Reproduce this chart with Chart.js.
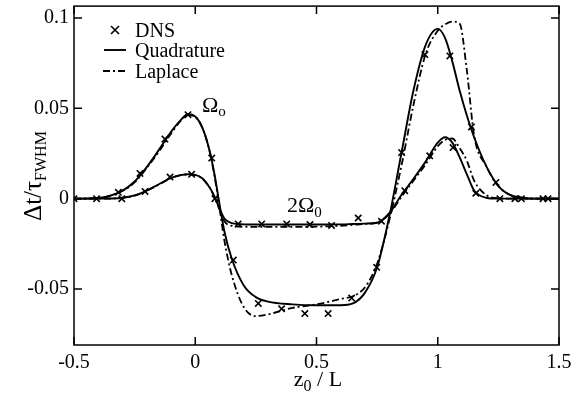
<!DOCTYPE html>
<html>
<head>
<meta charset="utf-8">
<script src="https://cdn.jsdelivr.net/npm/chart.js@4/dist/chart.umd.min.js"></script>
<style>
    html, body { margin: 0; padding: 0; background: #fff; }
</style>
</head>
<body>
<canvas id="chart" width="585" height="401"></canvas>
<script>
/* Sample positions z0/L shared by the four model curves */
const zGrid = [
    -0.5, -0.4, -0.3, -0.25, -0.2, -0.15, -0.1, -0.06, -0.03, 0,
    0.03, 0.06, 0.08, 0.1, 0.12, 0.15, 0.2, 0.25, 0.3, 0.4,
    0.5, 0.6, 0.65, 0.7, 0.75, 0.8, 0.85, 0.9, 0.95, 1.0,
    1.03, 1.06, 1.09, 1.12, 1.15, 1.2, 1.25, 1.3, 1.35, 1.4, 1.5,
];

/* Omega_0 curves */
const quadOmega = [
    0, 0.0004, 0.0045, 0.0095, 0.0175, 0.027, 0.037, 0.0435, 0.0467, 0.0455,
    0.039, 0.026, 0.013, -0.003, -0.018, -0.033, -0.048, -0.0545, -0.057, -0.0585,
    -0.059, -0.059, -0.058, -0.052, -0.038, -0.010, 0.025, 0.060, 0.085, 0.094,
    0.089, 0.076, 0.060, 0.046, 0.034, 0.018, 0.007, 0.002, 0.0005, 0, 0,
];
const laplaceOmega = [
    0, 0.0004, 0.0043, 0.009, 0.017, 0.026, 0.036, 0.043, 0.0463, 0.0453,
    0.039, 0.026, 0.012, -0.005, -0.023, -0.042, -0.060, -0.065, -0.064, -0.0605,
    -0.0585, -0.0555, -0.054, -0.049, -0.036, -0.012, 0.018, 0.052, 0.080, 0.093,
    0.0965, 0.098, 0.097, 0.071, 0.035, 0.018, 0.007, 0.002, 0.0005, 0, 0,
];

/* 2 Omega_0 curves */
const quad2Omega = [
    0, 0, 0.0005, 0.0018, 0.0045, 0.008, 0.0115, 0.013, 0.0135, 0.0132,
    0.0112, 0.006, 0.001, -0.0055, -0.011, -0.0135, -0.0142, -0.0143, -0.0143, -0.0143,
    -0.0143, -0.0142, -0.014, -0.0138, -0.0133, -0.008, 0.002, 0.011, 0.0205, 0.031,
    0.034, 0.031, 0.023, 0.0135, 0.0045, 0.0005, 0, 0, 0, 0, 0,
];
const laplace2Omega = [
    0, 0, 0.0005, 0.0017, 0.0044, 0.0078, 0.0113, 0.013, 0.0134, 0.0131,
    0.011, 0.006, 0.0005, -0.006, -0.0125, -0.015, -0.0155, -0.0156, -0.0156, -0.0156,
    -0.0155, -0.015, -0.0145, -0.014, -0.0133, -0.0085, 0.001, 0.010, 0.019, 0.029,
    0.0325, 0.0333, 0.028, 0.021, 0.010, 0.002, 0.0002, 0, 0, 0, 0,
];

/* DNS samples (both signals) */
const dnsZ = [
    -0.5, -0.407, -0.317, -0.303, -0.228, -0.207, -0.125, -0.104, -0.03, -0.015,
    0.068, 0.081, 0.157, 0.177, 0.26, 0.274, 0.356, 0.377, 0.452, 0.473,
    0.548, 0.562, 0.645, 0.672, 0.748, 0.768, 0.851, 0.864, 0.947, 0.967,
    1.05, 1.063, 1.139, 1.157, 1.24, 1.256, 1.318, 1.345, 1.434, 1.455,
];
const dnsDt = [
    0, 0, 0.0035, 0, 0.014, 0.004, 0.033, 0.012, 0.0465, 0.0135,
    0.0225, 0, -0.034, -0.014, -0.058, -0.014, -0.061, -0.014, -0.0636, -0.0143,
    -0.0636, -0.0148, -0.055, -0.0107, -0.038, -0.0125, 0.0255, 0.0044, 0.0798, 0.0237,
    0.079, 0.0283, 0.0397, 0.003, 0.009, 0, 0, 0, 0, 0,
];

const xTicks = [-0.5, 0, 0.5, 1, 1.5];
const xTickLabels = ["-0.5", "0", "0.5", "1", "1.5"];
const yTicks = [-0.05, 0, 0.05, 0.1];
const yTickLabels = ["-0.05", "0", "0.05", "0.1"];

const SERIF = '"Liberation Serif", "DejaVu Serif", serif';
const DASH_DOT = [7, 3, 2, 3];

function pairs(xs, ys) {
    return xs.map((x, i) => ({ x: x, y: ys[i] }));
}

function curve(values, dashed) {
    return {
        data: pairs(zGrid, values),
        borderColor: "#000",
        borderWidth: dashed ? 1.8 : 1.9,
        borderDash: dashed ? DASH_DOT : [],
        pointRadius: 0,
        fill: false,
        cubicInterpolationMode: "monotone",
    };
}

/* text with a subscript */
function drawSub(ctx, x, y, main, sub, size, subSize, drop) {
    ctx.font = `${size}px ${SERIF}`;
    ctx.fillText(main, x, y);
    const w = ctx.measureText(main).width;
    ctx.font = `${subSize}px ${SERIF}`;
    ctx.fillText(sub, x + w, y + drop);
}

function subWidth(ctx, main, sub, size, subSize) {
    ctx.font = `${size}px ${SERIF}`;
    const w = ctx.measureText(main).width;
    ctx.font = `${subSize}px ${SERIF}`;
    return w + ctx.measureText(sub).width;
}

const framePlugin = {
    id: "frame",
    beforeDraw(chart) {
        const ctx = chart.ctx;
        ctx.save();
        ctx.fillStyle = "#fff";
        ctx.fillRect(0, 0, chart.width, chart.height);
        ctx.restore();
    },
    afterDatasetsDraw(chart) {
        const { ctx, chartArea: a, scales: { x, y } } = chart;
        ctx.save();
        ctx.strokeStyle = "#000";
        ctx.fillStyle = "#000";
        ctx.lineWidth = 1.5;
        ctx.strokeRect(a.left, a.top, a.right - a.left, a.bottom - a.top);

        /* inward ticks on all four sides */
        ctx.beginPath();
        xTicks.forEach(v => {
            const px = x.getPixelForValue(v);
            ctx.moveTo(px, a.bottom); ctx.lineTo(px, a.bottom - 8);
            ctx.moveTo(px, a.top); ctx.lineTo(px, a.top + 8);
        });
        yTicks.forEach(v => {
            const py = y.getPixelForValue(v);
            ctx.moveTo(a.left, py); ctx.lineTo(a.left + 8, py);
            ctx.moveTo(a.right, py); ctx.lineTo(a.right - 8, py);
        });
        ctx.stroke();

        ctx.textBaseline = "alphabetic";
        ctx.textAlign = "left";

        /* x title */
        const xw = subWidth(ctx, "z", "0 / L", 22, 22);
        ctx.font = `22px ${SERIF}`;
        const zW = ctx.measureText("z").width;
        ctx.font = `16px ${SERIF}`;
        const zeroW = ctx.measureText("0").width;
        ctx.font = `22px ${SERIF}`;
        const restW = ctx.measureText(" / L").width;
        let tx = 318 - (zW + zeroW + restW) / 2;
        ctx.fillText("z", tx, 386);
        ctx.font = `16px ${SERIF}`;
        ctx.fillText("0", tx + zW, 391);
        ctx.font = `22px ${SERIF}`;
        ctx.fillText(" / L", tx + zW + zeroW, 386);

        /* y title, rotated */
        ctx.save();
        ctx.translate(41, 176);
        ctx.rotate(-Math.PI / 2);
        const yw = subWidth(ctx, "\u0394t/\u03c4", "FWHM", 25, 16);
        drawSub(ctx, -yw / 2, 0, "\u0394t/\u03c4", "FWHM", 25, 16, 5);
        ctx.restore();

        /* curve labels */
        drawSub(ctx, 202, 112, "\u03a9", "o", 22, 15, 4);
        drawSub(ctx, 287, 212, "2\u03a9", "0", 22, 15, 5);

        /* legend */
        ctx.lineWidth = 1.6;
        ctx.beginPath();
        ctx.moveTo(111, 26); ctx.lineTo(119, 34);
        ctx.moveTo(119, 26); ctx.lineTo(111, 34);
        ctx.stroke();
        ctx.lineWidth = 1.9;
        ctx.beginPath();
        ctx.moveTo(104, 50); ctx.lineTo(126, 50);
        ctx.stroke();
        ctx.setLineDash(DASH_DOT);
        ctx.lineWidth = 1.8;
        ctx.beginPath();
        ctx.moveTo(103, 71); ctx.lineTo(126, 71);
        ctx.stroke();
        ctx.setLineDash([]);
        ctx.font = `20px ${SERIF}`;
        ctx.fillText("DNS", 135, 37);
        ctx.fillText("Quadrature", 135, 57);
        ctx.fillText("Laplace", 135, 78);
        ctx.restore();
    },
};

const tickFont = { family: SERIF, size: 20 };

new Chart(document.getElementById("chart"), {
    type: "line",
    data: {
        datasets: [
            curve(quadOmega, false),
            curve(laplaceOmega, true),
            curve(quad2Omega, false),
            curve(laplace2Omega, true),
            {
                data: pairs(dnsZ, dnsDt),
                showLine: false,
                pointStyle: "crossRot",
                pointRadius: 4.5,
                pointBorderColor: "#000",
                pointBorderWidth: 1.6,
                borderColor: "#000",
            },
        ],
    },
    options: {
        responsive: false,
        animation: false,
        layout: { padding: { top: 5, right: 26, left: 0, bottom: 0 } },
        plugins: {
            legend: { display: false },
            tooltip: { enabled: false },
        },
        scales: {
            x: {
                type: "linear",
                min: -0.5,
                max: 1.5,
                grid: { display: false, drawTicks: false },
                border: { display: false },
                ticks: {
                    font: tickFont,
                    color: "#000",
                    padding: 6,
                    maxRotation: 0,
                    callback: (v, i) => xTickLabels[i],
                },
                afterBuildTicks: s => { s.ticks = xTicks.map(v => ({ value: v })); },
                afterFit: s => { s.height = 56; s.paddingLeft = 0; s.paddingRight = 0; },
            },
            y: {
                type: "linear",
                min: -0.081,
                max: 0.1066,
                grid: { display: false, drawTicks: false },
                border: { display: false },
                ticks: {
                    font: tickFont,
                    color: "#000",
                    padding: 5,
                    callback: (v, i) => yTickLabels[i],
                },
                afterBuildTicks: s => { s.ticks = yTicks.map(v => ({ value: v })); },
                afterFit: s => { s.width = 74; s.paddingTop = 0; s.paddingBottom = 0; },
            },
        },
    },
    plugins: [framePlugin],
});
</script>
</body>
</html>
